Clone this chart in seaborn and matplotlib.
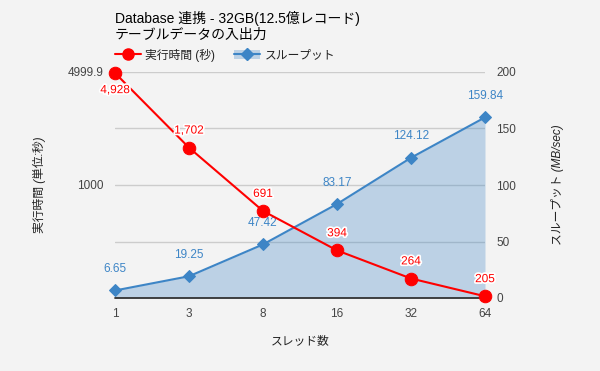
import matplotlib
matplotlib.use("Agg")
import matplotlib.pyplot as plt
import matplotlib.patheffects as pe
import seaborn as sns
import pandas as pd
import numpy as np
from matplotlib.lines import Line2D
from matplotlib.patches import Patch

threads = ["1", "3", "8", "16", "32", "64"]
exec_time = [4928, 1702, 691, 394, 264, 205]
exec_labels = ["4,928", "1,702", "691", "394", "264", "205"]
throughput = [6.65, 19.25, 47.42, 83.17, 124.12, 159.84]
throughput_labels = ["6.65", "19.25", "47.42", "83.17", "124.12", "159.84"]

sns.set_theme(style="white")
FAM = ["Liberation Sans", "Noto Sans CJK JP", "DejaVu Sans"]
plt.rcParams["font.family"] = FAM

BG = "#f3f3f3"
RED = "#ff0000"
BLUE = "#3d85c6"
TXT = "#444444"

df = pd.DataFrame({"pos": np.arange(len(threads)), "time": exec_time, "tp": throughput})

fig = plt.figure(figsize=(6, 3.71), dpi=100, facecolor=BG)
W, H = 600, 371
L, R, T, B = 115, 485, 72, 298
ax2 = fig.add_axes([L / W, 1 - B / H, (R - L) / W, (B - T) / H])
ax = ax2.twinx()
ax2.set_facecolor(BG)
ax2.set_zorder(1)
ax.set_zorder(2)
ax.patch.set_visible(False)

# right axis (throughput) - draws gridlines and area
ax2.set_ylim(0, 200)
ax2.set_yticks([0, 50, 100, 150, 200])
ax2.yaxis.grid(True, color="#cccccc", linewidth=1)
ax2.set_axisbelow(True)
ax2.fill_between(df["pos"], 0, df["tp"], color=BLUE, alpha=0.3, linewidth=0)
ax2.axhline(0, color="#333333", linewidth=1.3, zorder=3)
sns.lineplot(data=df, x="pos", y="tp", ax=ax2, color=BLUE, linewidth=1.5,
             marker="D", markersize=6.5, markeredgecolor=BLUE, legend=False)
for ln in ax2.lines:
    ln.set_clip_on(False)
for x, y, s in zip(df["pos"], throughput, throughput_labels):
    ax2.annotate(s, (x, y), xytext=(0, 11), textcoords="offset points",
                 ha="center", va="bottom", color=BLUE, fontsize=8.5)

# left axis (time, log)
sns.lineplot(data=df, x="pos", y="time", ax=ax, color=RED, linewidth=1.5,
             marker="o", markersize=9, markeredgecolor=RED, legend=False)
for ln in ax.lines:
    ln.set_clip_on(False)
ax.set_yscale("log")
ax.set_ylim(200, 4999.9)
ax.set_yticks([1000, 4999.9])
ax.set_yticklabels(["1000", "4999.9"])
ax.yaxis.set_minor_locator(matplotlib.ticker.NullLocator())
halo = [pe.withStroke(linewidth=2.5, foreground="white")]
for i, (x, y, s) in enumerate(zip(df["pos"], exec_time, exec_labels)):
    if i == 0:
        t = ax.annotate(s, (x, y), xytext=(0, -8), textcoords="offset points",
                        ha="center", va="top", color=RED, fontsize=8.5)
    else:
        t = ax.annotate(s, (x, y), xytext=(0, 8), textcoords="offset points",
                        ha="center", va="bottom", color=RED, fontsize=8.5)
    t.set_path_effects(halo)

ax.yaxis.tick_left()
ax.yaxis.set_label_position("left")
ax2.yaxis.tick_right()
ax2.yaxis.set_label_position("right")

for a in (ax, ax2):
    for sp in a.spines.values():
        sp.set_visible(False)
    a.tick_params(length=0, labelsize=8.5, labelcolor=TXT)
ax.tick_params(axis="y", pad=8)
ax2.tick_params(axis="y", pad=8)

ax2.set_xlim(0, len(threads) - 1)
ax2.set_xticks(df["pos"])
ax2.set_xticklabels(threads)
ax2.tick_params(axis="x", pad=7)
ax.set_xlim(0, len(threads) - 1)

ax2.set_xlabel("スレッド数", fontsize=8.5, style="italic", color="#222222", labelpad=11)
ax.set_ylabel("実行時間 (単位:秒)", fontsize=8.5, style="italic", color="#222222", labelpad=16)
ax2.set_ylabel("スループット (MB/sec)", fontsize=8.5, style="italic", color="#222222",
               labelpad=25, rotation=90)

fig.text(L / W, 1 - 18 / H, "Database 連携 - 32GB(12.5億レコード)", fontsize=10,
         color="#000000", va="center", ha="left")
fig.text(L / W, 1 - 35 / H, "テーブルデータの入出力", fontsize=10,
         color="#000000", va="center", ha="left")

handles = [Line2D([0], [0], color=RED, linewidth=1.5, marker="o", markersize=8),
           (Patch(facecolor=BLUE, alpha=0.3, linewidth=0),
            Line2D([0], [0], color=BLUE, linewidth=1.5, marker="D", markersize=6))]
fig.legend(handles, ["実行時間 (秒)", "スループット"], loc="center left",
           bbox_to_anchor=(104 / W, 1 - 55 / H), ncol=2, frameon=False,
           fontsize=8.5, handlelength=2.2, columnspacing=1.6, handletextpad=0.4,
           labelcolor="#222222")

fig.savefig("out.png", dpi=100, facecolor=BG)
